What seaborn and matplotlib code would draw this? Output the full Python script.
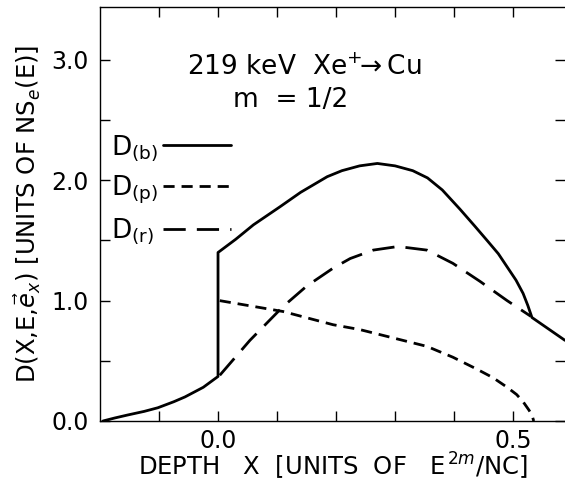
import numpy as np
import pandas as pd
import matplotlib
matplotlib.use("Agg")
import matplotlib.pyplot as plt
import seaborn as sns

# ---- data ----
xb = [-0.195, -0.175, -0.153, -0.125, -0.102, -0.075, -0.056, -0.025, 0.0, 0.0,
      0.03, 0.06, 0.105, 0.14, 0.185, 0.21, 0.24, 0.27, 0.30, 0.33, 0.355, 0.38,
      0.41, 0.435, 0.456, 0.475, 0.49, 0.505, 0.517, 0.525, 0.532, 0.588]
yb = [0.0, 0.025, 0.05, 0.08, 0.11, 0.16, 0.20, 0.28, 0.37, 1.40,
      1.51, 1.63, 1.78, 1.90, 2.03, 2.08, 2.12, 2.14, 2.12, 2.08, 2.02, 1.92,
      1.76, 1.62, 1.50, 1.39, 1.28, 1.17, 1.06, 0.96, 0.86, 0.67]

xp = [0.003, 0.11, 0.195, 0.24, 0.297, 0.354, 0.398, 0.439, 0.466, 0.49,
      0.506, 0.517, 0.527, 0.532, 0.535]
yp = [1.00, 0.91, 0.80, 0.76, 0.69, 0.62, 0.53, 0.43, 0.36, 0.28,
      0.22, 0.16, 0.09, 0.05, 0.0]

xr = [0.003, 0.054, 0.11, 0.15, 0.195, 0.224, 0.263, 0.305, 0.354, 0.398,
      0.444, 0.49, 0.53]
yr = [0.38, 0.67, 0.95, 1.12, 1.27, 1.35, 1.42, 1.45, 1.42, 1.31,
      1.16, 1.00, 0.87]

labels = [r"$\mathrm{D}_{(\mathrm{b})}$", r"$\mathrm{D}_{(\mathrm{p})}$",
          r"$\mathrm{D}_{(\mathrm{r})}$"]
x_ticklabels = ["0.0", "0.5"]
y_ticklabels = ["0.0", "1.0", "2.0", "3.0"]

sns.set_style("ticks")
plt.rcParams["font.family"] = ["DejaVu Sans"]
plt.rcParams["mathtext.fontset"] = "dejavusans"
plt.rcParams["text.color"] = "black"
plt.rcParams["axes.labelcolor"] = "black"

W, H = 565, 483
fig = plt.figure(figsize=(W / 100, H / 100), dpi=100)
ax = fig.add_axes([100 / W, (H - 421) / H, 465 / W, 414 / H])

lw = 2.0
sns.lineplot(x=xb, y=yb, ax=ax, sort=False, estimator=None, color="black",
             lw=lw, label=labels[0])
sns.lineplot(x=xp, y=yp, ax=ax, sort=False, estimator=None, color="black",
             lw=lw, label=labels[1])
sns.lineplot(x=xr, y=yr, ax=ax, sort=False, estimator=None, color="black",
             lw=lw, label=labels[2])
lines = ax.get_lines()
lines[1].set_dashes((4, 2.5))
lines[2].set_dashes((8, 4))

ax.set_xlim(-0.2, 0.588)
ax.set_ylim(0, 3.44)
ax.set_xticks([0.0, 0.5])
ax.set_xticklabels(x_ticklabels)
ax.set_xticks(np.arange(-0.1, 0.59, 0.1), minor=True)
ax.set_yticks([0, 1, 2, 3])
ax.set_yticklabels(y_ticklabels)
ax.set_yticks([0.5, 1.5, 2.5], minor=True)

for sp in ax.spines.values():
    sp.set_visible(True)
    sp.set_linewidth(1.0)
    sp.set_color("black")
ax.spines["right"].set_visible(False)
ax.tick_params(which="both", direction="in", top=True, right=True,
               length=7, width=1.0, colors="black", labelcolor="black",
               labelsize=17, pad=8)
ax.tick_params(axis="x", which="both", pad=6)

ax.set_xlabel(r"DEPTH   X  [UNITS  OF   E$^{\,2m}$/NC]", fontsize=17.5, labelpad=-2)
ax.set_ylabel(r"D(X,E,$\vec{e}_{x}$) [UNITS OF NS$_{e}$(E)]", fontsize=17.5, labelpad=6)

ax.text(0.439, 0.853, r"219 keV  Xe$^{+}\!\!\rightarrow$Cu", transform=ax.transAxes,
        ha="center", va="center", fontsize=19)
ax.text(0.409, 0.775, "m  = 1/2", transform=ax.transAxes,
        ha="center", va="center", fontsize=19)

leg = ax.legend(loc="upper left", bbox_to_anchor=(0.002, 0.72), frameon=False,
                markerfirst=False, fontsize=19, handlelength=2.6,
                handletextpad=0.15, labelspacing=0.4, borderaxespad=0)
for t in leg.get_texts():
    t.set_color("black")

# left-align the legend labels (entries are right-aligned by default)
fig.canvas.draw()
renderer = fig.canvas.get_renderer()
texts = leg.get_texts()
x0s = [t.get_window_extent(renderer).x0 for t in texts]
xmin = min(x0s)
for t, x0 in zip(texts, x0s):
    t.set_x(xmin - x0)

fig.savefig("out.png", dpi=100)
